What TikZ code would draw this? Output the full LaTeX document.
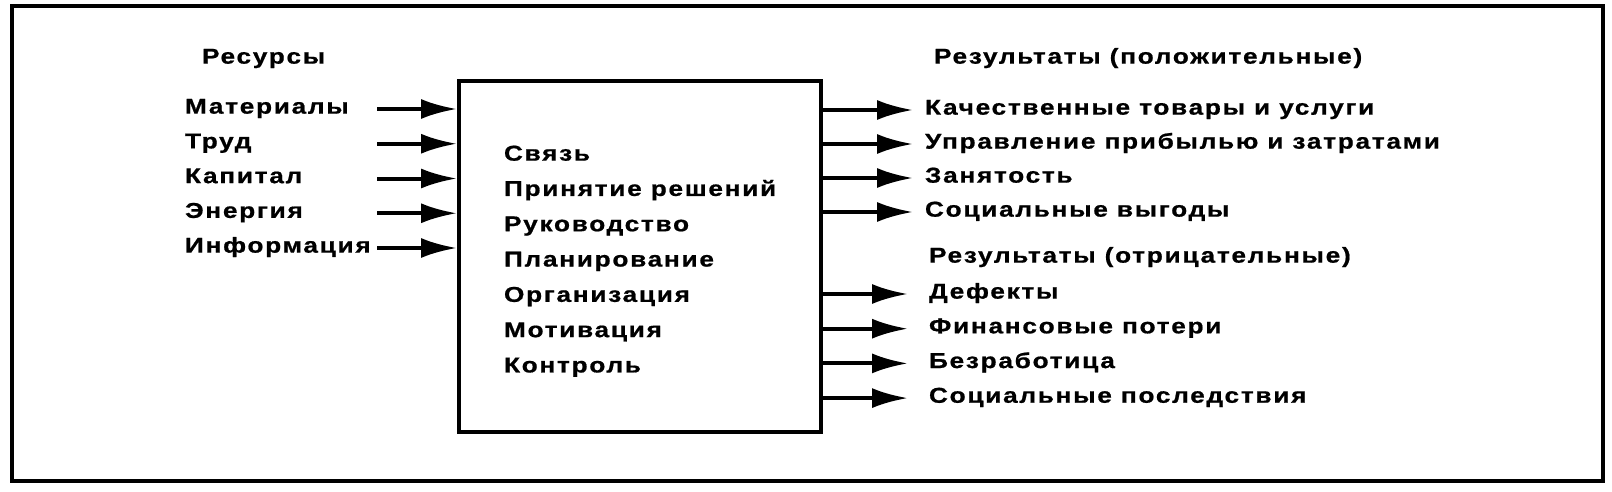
\documentclass[tikz,border=0pt]{standalone}
\usepackage{fontspec}
\setmainfont{Liberation Sans}[FakeStretch=1.22,LetterSpace=8,FakeBold=0.8]
\usetikzlibrary{positioning,arrows.meta}

\begin{document}
\begin{tikzpicture}
  [x=1pt, y=-1pt, line width=4pt,
   font=\fontsize{21.5}{25}\selectfont\bfseries,
   item/.style={anchor=mid west, inner sep=0pt},
   arr/.style={-{Latex[length=36pt,width=20pt]}}]
  \useasboundingbox (0,0) rectangle (1612,492);
  \draw (12,6) rectangle (1603,481);
  \node[draw, anchor=north west, inner sep=0pt, minimum width=362pt,
        minimum height=351pt] (sys) at (457,79) {};

  % resources
  \node[item] (res) at (200,61) {Ресурсы};
  \node[item] (m1) at (183,111) {Материалы};
  \node[below=34.75pt of m1.mid west, item] (m2) {Труд};
  \node[below=34.75pt of m2.mid west, item] (m3) {Капитал};
  \node[below=34.75pt of m3.mid west, item] (m4) {Энергия};
  \node[below=34.75pt of m4.mid west, item] (m5) {Информация};
  \coordinate (src) at (377,0);
  \draw[arr] ([yshift=2pt]m1.mid -| src) -- ([yshift=2pt]m1.mid -| sys.west);
  \draw[arr] ([yshift=2pt]m2.mid -| src) -- ([yshift=2pt]m2.mid -| sys.west);
  \draw[arr] ([yshift=2pt]m3.mid -| src) -- ([yshift=2pt]m3.mid -| sys.west);
  \draw[arr] ([yshift=2pt]m4.mid -| src) -- ([yshift=2pt]m4.mid -| sys.west);
  \draw[arr] ([yshift=2pt]m5.mid -| src) -- ([yshift=2pt]m5.mid -| sys.west);

  % functions
  \node[item] (f1) at (502,158) {Связь};
  \node[below=35.3pt of f1.mid west, item] (f2) {Принятие решений};
  \node[below=35.3pt of f2.mid west, item] (f3) {Руководство};
  \node[below=35.3pt of f3.mid west, item] (f4) {Планирование};
  \node[below=35.3pt of f4.mid west, item] (f5) {Организация};
  \node[below=35.3pt of f5.mid west, item] (f6) {Мотивация};
  \node[below=35.3pt of f6.mid west, item] (f7) {Контроль};

  % results
  \node[item] (pos) at (932,61) {Результаты (положительные)};
  \node[item] (p1) at (923,112) {Качественные товары и услуги};
  \node[below=34pt of p1.mid west, item] (p2) {Управление прибылью и затратами};
  \node[below=34pt of p2.mid west, item] (p3) {Занятость};
  \node[below=34pt of p3.mid west, item] (p4) {Социальные выгоды};
  \node[item] (neg) at (927,260) {Результаты (отрицательные)};
  \node[item] (n1) at (927,296) {Дефекты};
  \node[below=34.7pt of n1.mid west, item] (n2) {Финансовые потери};
  \node[below=34.7pt of n2.mid west, item] (n3) {Безработица};
  \node[below=34.7pt of n3.mid west, item] (n4) {Социальные последствия};
  \coordinate (ptip) at (913,0);
  \coordinate (ntip) at (908,0);
  \draw[arr] ([yshift=2pt]p1.mid -| sys.east) -- ([yshift=2pt]p1.mid -| ptip);
  \draw[arr] ([yshift=2pt]p2.mid -| sys.east) -- ([yshift=2pt]p2.mid -| ptip);
  \draw[arr] ([yshift=2pt]p3.mid -| sys.east) -- ([yshift=2pt]p3.mid -| ptip);
  \draw[arr] ([yshift=2pt]p4.mid -| sys.east) -- ([yshift=2pt]p4.mid -| ptip);
  \draw[arr] ([yshift=2pt]n1.mid -| sys.east) -- ([yshift=2pt]n1.mid -| ntip);
  \draw[arr] ([yshift=2pt]n2.mid -| sys.east) -- ([yshift=2pt]n2.mid -| ntip);
  \draw[arr] ([yshift=2pt]n3.mid -| sys.east) -- ([yshift=2pt]n3.mid -| ntip);
  \draw[arr] ([yshift=2pt]n4.mid -| sys.east) -- ([yshift=2pt]n4.mid -| ntip);
\end{tikzpicture}
\end{document}
